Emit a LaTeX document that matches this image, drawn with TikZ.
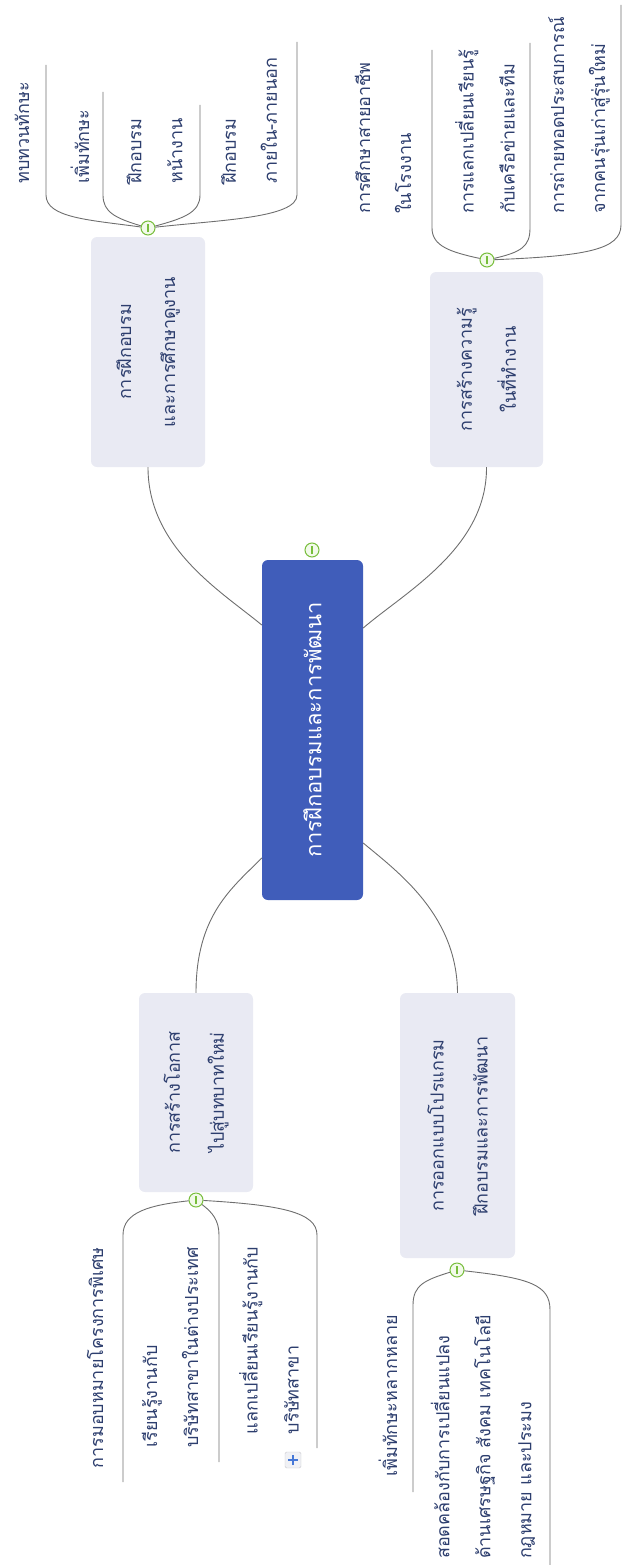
\documentclass[tikz,border=0pt]{standalone}
\usepackage{fontspec}
\newfontfamily\thaifont[Script=Thai]{Loma}
\usetikzlibrary{calc}
\definecolor{centerfill}{RGB}{64,93,186}
\definecolor{topicfill}{RGB}{233,234,243}
\definecolor{inktext}{RGB}{45,62,110}
\definecolor{linkgray}{RGB}{110,110,110}
\definecolor{knobgreen}{RGB}{120,190,60}
\definecolor{knobfill}{RGB}{242,250,234}
\definecolor{plusblue}{RGB}{70,120,215}
\begin{document}
\begin{tikzpicture}[x=1pt,y=-1pt,
  central/.style={rotate=90, rounded corners=6pt, fill=centerfill, text=white,
    font=\thaifont\fontsize{22}{30}\selectfont, inner sep=0pt},
  topic/.style={rotate=90, rounded corners=6pt, fill=topicfill, text=inktext,
    font=\thaifont\fontsize{18}{44}\selectfont, align=center, inner sep=0pt},
  subtopic/.style={rotate=90, inner sep=0pt, text=inktext,
    font=\thaifont\fontsize{18}{41}\selectfont, align=left},
  link/.style={draw=linkgray, line width=0.9pt},
  knob/.style={circle, draw=knobgreen, fill=knobfill, line width=1pt,
    minimum size=14pt, inner sep=0pt,
    path picture={\draw[knobgreen, line width=1.3pt]
      ([yshift=-4pt]path picture bounding box.center) --
      ([yshift=4pt]path picture bounding box.center);}},
  plusbox/.style={draw={rgb,255:red,200;green,200;blue,205}, fill={rgb,255:red,240;green,241;blue,245},
    rounded corners=1.5pt, minimum size=16pt, inner sep=0pt,
    path picture={\draw[plusblue, line width=2pt]
      ([xshift=-5pt]path picture bounding box.center) -- ([xshift=5pt]path picture bounding box.center)
      ([yshift=-5pt]path picture bounding box.center) -- ([yshift=5pt]path picture bounding box.center);}}
]
\useasboundingbox (0,0) rectangle (623,1565);

% central topic and its four main topics
\node[central, minimum width=340pt, minimum height=101pt] (c) at (312.5,730) {การฝึกอบรมและการพัฒนา};
\node[knob] (ck) at (312,550) {};

\node[topic, minimum width=230pt, minimum height=114pt] (tl) at (148,352) {การฝึกอบรม\\และการศึกษาดูงาน};
\node[topic, minimum width=195pt, minimum height=113pt] (tr) at (486.5,369.5) {การสร้างความรู้\\ในที่ทำงาน};
\node[topic, minimum width=199pt, minimum height=114pt] (bl) at (196,1092.5) {การสร้างโอกาส\\ไปสู่บทบาทใหม่};
\node[topic, minimum width=265pt, minimum height=115pt] (br) at (457.5,1125.5) {การออกแบบโปรแกรม\\ฝึกอบรมและการพัฒนา};

\draw[link] (tl.west) .. controls (148,548) and (222,592) .. ($(c.north)+(0,-105)$);
\draw[link] (tr.west) .. controls (487,548) and (405,592) .. ($(c.south)+(0,-102)$);
\draw[link] (bl.east) .. controls (196,915) and (232,888) .. ($(c.north)+(0,128)$);
\draw[link] (br.east) .. controls (457,915) and (398,872) .. ($(c.south)+(0,113)$);

% collapse knobs
\node[knob] (tlk) at (148,228) {};
\node[knob] (trk) at (487,260) {};
\node[knob] (blk) at (196,1200) {};
\node[knob] (brk) at (457,1270) {};

% subtopics of the upper left topic
\node[subtopic, anchor=west] (tl1) at (22,184) {ทบทวนทักษะ};
\node[subtopic, anchor=west] (tl2) at (80,184) {เพิ่มทักษะ};
\node[subtopic, anchor=west] (tl3) at (154.5,184) {ฝึกอบรม\\หน้างาน};
\node[subtopic, anchor=west] (tl4) at (249,184) {ฝึกอบรม\\ภายใน-ภายนอก};
\draw[link] (tlk) .. controls (90,220) and (46,218) .. (46,195) -- (46,65);
\draw[link] (tlk) .. controls (115,218) and (103,212) .. (103,195) -- (103,92);
\draw[link] (tlk) .. controls (185,218) and (200,212) .. (200,195) -- (200,105);
\draw[link] (tlk) .. controls (220,220) and (297,218) .. (297,195) -- (297,42);

% subtopics of the upper right topic
\node[subtopic, anchor=west] (tr1) at (383,214) {การศึกษาสายอาชีพ\\ในโรงงาน};
\node[subtopic, anchor=west] (tr2) at (485,214) {การแลกเปลี่ยนเรียนรู้\\กับเครือข่ายและทีม};
\node[subtopic, anchor=west] (tr3) at (579,214) {การถ่ายทอดประสบการณ์\\จากคนรุ่นเก่าสู่รุ่นใหม่};
\draw[link] (trk) .. controls (450,252) and (432,246) .. (432,228) -- (432,50);
\draw[link] (trk) .. controls (522,252) and (530,246) .. (530,228) -- (530,43);
\draw[link] (trk) .. controls (585,256) and (621,250) .. (621,225) -- (621,5);

% subtopics of the lower left topic
\node[subtopic, anchor=east] (bl1) at (95,1247) {การมอบหมายโครงการพิเศษ};
\node[subtopic, anchor=east] (bl2) at (170,1247) {เรียนรู้งานกับ\\บริษัทสาขาในต่างประเทศ};
\node[subtopic, anchor=east] (bl3) at (269,1247) {แลกเปลี่ยนเรียนรู้งานกับ\\บริษัทสาขา};
\node[plusbox] (more) at (293,1460) {};
\draw[link] (blk) .. controls (150,1205) and (123,1212) .. (123,1235) -- (123,1482);
\draw[link] (blk) .. controls (212,1212) and (219,1220) .. (219,1235) -- (219,1462);
\draw[link] (blk) .. controls (280,1205) and (317,1212) .. (317,1235) -- (317,1448);

% subtopics of the lower right topic
\node[subtopic, anchor=east] (br1) at (388,1315) {เพิ่มทักษะหลากหลาย};
\node[subtopic, anchor=east] (br2) at (483,1315) {สอดคล้องกับการเปลี่ยนแปลง\\ด้านเศรษฐกิจ สังคม เทคโนโลยี\\กฎหมาย และประมง};
\draw[link] (brk) .. controls (425,1280) and (413,1285) .. (413,1305) -- (413,1492);
\draw[link] (brk) .. controls (530,1278) and (550,1285) .. (550,1310) -- (550,1565);
\end{tikzpicture}
\end{document}
